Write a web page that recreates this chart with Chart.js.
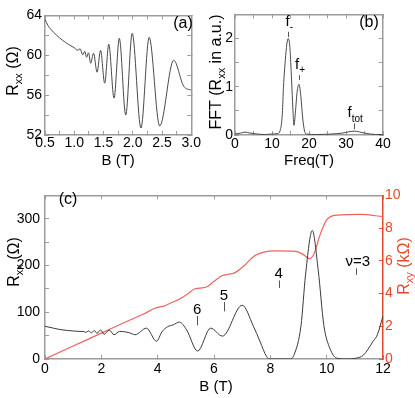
<!DOCTYPE html>
<html lang="en">
<head>
<meta charset="UTF-8" />
<title>Rxx oscillations, FFT and quantum Hall</title>
<script src="https://cdn.jsdelivr.net/npm/chart.js"></script>
<style>
  body { margin: 0; background: #fff; }
  #wrap { position: relative; width: 415px; height: 398px; overflow: hidden; }
  canvas { position: absolute; }
</style>
</head>
<body>
<div id="wrap">
  <canvas id="ca" width="205" height="178" style="left:0;top:0"></canvas>
  <canvas id="cb" width="210" height="178" style="left:205px;top:0"></canvas>
  <canvas id="cc" width="415" height="220" style="left:0;top:178px"></canvas>
</div>
<script>
// (a) low field Rxx (Ohm) vs B (T)
var aB = [0.50, 0.55, 0.60, 0.70, 0.80, 0.90, 1.00, 1.06, 1.10, 1.145, 1.18, 1.21, 1.245, 1.28, 1.33, 1.39, 1.45, 1.52, 1.59, 1.68, 1.77, 1.88, 1.99, 2.14, 2.28, 2.46, 2.70, 2.87, 3.00];
var aR = [63.6, 63.0, 62.6, 62.0, 61.5, 61.1, 60.75, 60.5, 60.65, 60.05, 60.4, 59.8, 60.25, 59.2, 60.2, 58.3, 60.5, 57.2, 61.1, 55.7, 61.7, 54.0, 62.2, 52.7, 61.8, 52.9, 59.5, 56.9, 56.5];
var aXTicks = [0.5, 1.0, 1.5, 2.0, 2.5, 3.0];
var aYTicks = [52, 56, 60, 64];

// (b) FFT amplitude (a.u.) vs frequency (T)
var bF = [0, 1.5, 2.7, 4, 6, 8, 10, 11.5, 12.2, 12.8, 13.1, 13.6, 14.0, 14.4, 14.8, 15.1, 15.4, 15.7, 15.95, 16.3, 16.8, 17.3, 17.8, 18.3, 18.8, 19.3, 22, 26, 29, 32.2, 35, 38, 40];
var bA = [0.02, 0.04, 0.06, 0.04, 0.02, 0.01, 0.02, 0.03, 0.09, 0.45, 1.0, 1.55, 1.88, 2.0, 1.85, 1.45, 0.95, 0.45, 0.2, 0.45, 0.9, 1.05, 0.8, 0.35, 0.08, 0.02, 0.01, 0.02, 0.04, 0.08, 0.04, 0.01, 0.01];
var bXTicks = [0, 10, 20, 30, 40];
var bYTicks = [0, 1, 2];
var fName = [['f', '-'], ['f', '+'], ['f', 'tot']];
var fPos = [14.4, 17.3, 32.2];
var fTick = [[2.03, 2.14], [1.14, 1.24], [0.12, 0.24]];

// (c) Rxx (Ohm) and Rxy (kOhm) up to 12 T
var cB = [0, 0.3, 0.53, 0.8, 1.0, 1.24, 1.35, 1.45, 1.55, 1.65, 1.75, 1.85, 1.97, 2.1, 2.28, 2.45, 2.65, 2.85, 3.0, 3.2, 3.6, 3.96, 4.15, 4.35, 4.55, 4.77, 5.03, 5.42, 5.88, 6.3, 7.0, 7.4, 7.63, 7.87, 8.0, 8.7, 8.85, 9.09, 9.25, 9.49, 9.7, 9.9, 10.12, 10.35, 10.7, 11.06, 11.3, 11.65, 11.8, 12.0];
var cRxx = [70, 66, 63, 61, 60, 59, 59, 57, 60, 56, 61, 55, 62, 53, 62, 52, 59, 58, 56, 52, 66, 38, 58, 69, 73, 79, 62, 17, 66, 49, 115, 70, 38, 5, 0, 0, 10, 72, 180, 275, 190, 72, 22, 2, 0, 2, 8, 38, 52, 92];
var hB = [0, 1, 2, 3, 3.5, 3.9, 4.05, 4.25, 4.5, 4.8, 5.1, 5.3, 5.5, 5.75, 6.0, 6.3, 6.5, 6.75, 7.1, 7.45, 7.8, 8.2, 8.9, 9.2, 9.38, 9.55, 9.76, 10.0, 10.36, 11.2, 12.0];
var hRxy = [0, 0.79, 1.58, 2.37, 2.75, 3.1, 3.17, 3.25, 3.45, 3.68, 4.02, 4.28, 4.33, 4.42, 4.75, 5.1, 5.18, 5.28, 5.75, 6.32, 6.55, 6.61, 6.58, 6.35, 6.13, 6.42, 7.56, 8.5, 8.8, 8.84, 8.7];
var cXTicks = [0, 2, 4, 6, 8, 10, 12];
var cYTicks = [0, 100, 200, 300];
var cY2Ticks = [0, 2, 4, 6, 8, 10];
var nuText = ['6', '5', '4', 'ν=3'];
var nuB = [5.4, 6.35, 8.3, 11.03];
var nuTick = [[72, 92], [102, 122], [152, 168], [180, 194]];

var FONT = "'Liberation Sans', Arial, sans-serif";
var FRAME = '#9c9c9c';
var RED = '#e8482c';

Chart.defaults.font.family = FONT;
Chart.defaults.font.size = 14;
Chart.defaults.color = '#000';

function pts(xs, ys) {
  return xs.map(function (x, i) { return { x: x, y: ys[i] }; });
}

// axis with ticks pointing into the plot
function inAxis(pos, min, max, step, size, labels, dec, pad, color) {
  color = color || FRAME;
  var horiz = pos === 'top' || pos === 'bottom';
  return {
    type: 'linear', position: pos, min: min, max: max,
    afterFit: function (s) { if (horiz) s.height = size; else s.width = size; },
    border: { color: color, width: 1.5 },
    grid: { drawOnChartArea: false, drawTicks: true, tickLength: -4, color: color, lineWidth: 1 },
    ticks: {
      display: !!labels, stepSize: step, autoSkip: false, maxRotation: 0, padding: pad || 0,
      color: color === RED ? RED : '#000',
      callback: function (v) {
        var ok = labels && labels.some(function (l) { return Math.abs(l - v) < 1e-6; });
        return ok ? v.toFixed(dec) : '';
      }
    }
  };
}

// text made of parts, [text, isSubscript], centred on x, baseline on y
function drawParts(ctx, parts, x, y, size, color, rot) {
  ctx.save();
  ctx.translate(x, y);
  if (rot) ctx.rotate(rot);
  ctx.fillStyle = color || '#000';
  ctx.textAlign = 'left';
  ctx.textBaseline = 'alphabetic';
  var sub = Math.round(size * 0.68);
  var widths = [], total = 0;
  parts.forEach(function (p) {
    ctx.font = (p[1] ? sub : size) + 'px ' + FONT;
    var w = ctx.measureText(p[0]).width;
    widths.push(w); total += w;
  });
  var cx = -total / 2;
  parts.forEach(function (p, i) {
    ctx.font = (p[1] ? sub : size) + 'px ' + FONT;
    ctx.fillText(p[0], cx, p[1] ? size * 0.28 : 0);
    cx += widths[i];
  });
  ctx.restore();
}

function marker(ctx, x, y1, y2) {
  ctx.save();
  ctx.strokeStyle = '#555';
  ctx.lineWidth = 1;
  ctx.beginPath();
  ctx.moveTo(Math.round(x) + 0.5, y1);
  ctx.lineTo(Math.round(x) + 0.5, y2);
  ctx.stroke();
  ctx.restore();
}

var baseOpts = function (padding, scales) {
  return {
    responsive: false, animation: false, events: [],
    layout: { padding: padding },
    plugins: { legend: { display: false }, tooltip: { enabled: false } },
    scales: scales
  };
};

function line(data, color, axis, width) {
  return {
    data: data, borderColor: color, borderWidth: width || 1, pointRadius: 0,
    cubicInterpolationMode: 'monotone', fill: false, yAxisID: axis || 'y'
  };
}

// (a)
new Chart(document.getElementById('ca'), {
  type: 'line',
  data: { datasets: [line(pts(aB, aR), '#4a4a4a')] },
  options: baseOpts({ left: 0, right: 9, top: 9, bottom: 0 }, {
    x: inAxis('bottom', 0.5, 3.0, 0.25, 43, aXTicks, 1, 4),
    x2: inAxis('top', 0.5, 3.0, 0.25, 0, null),
    y: inAxis('left', 52, 64, 2, 45, aYTicks, 0, 7),
    y2: inAxis('right', 52, 64, 2, 0, null)
  }),
  plugins: [{
    id: 'textA',
    afterDraw: function (chart) {
      var ctx = chart.ctx, a = chart.chartArea;
      drawParts(ctx, [['B (T)']], (a.left + a.right) / 2, 165, 15);
      drawParts(ctx, [['R'], ['xx', 1], [' (Ω)']], 18, 71, 16, '#000', -Math.PI / 2);
      drawParts(ctx, [['(a)']], 183, 28, 16);
    }
  }]
});

// (b)
new Chart(document.getElementById('cb'), {
  type: 'line',
  data: { datasets: [line(pts(bF, bA), '#4a4a4a')] },
  options: baseOpts({ left: 0, right: 32, top: 7, bottom: 0 }, {
    x: inAxis('bottom', 0, 40, 5, 43, bXTicks, 0, 4.5),
    x2: inAxis('top', 0, 40, 5, 0, null),
    y: inAxis('left', 0, 2.5, 0.5, 30, bYTicks, 0, 6),
    y2: inAxis('right', 0, 2.5, 0.5, 0, null)
  }),
  plugins: [{
    id: 'textB',
    afterDraw: function (chart) {
      var ctx = chart.ctx, a = chart.chartArea, sx = chart.scales.x, sy = chart.scales.y;
      drawParts(ctx, [['Freq(T)']], (a.left + a.right) / 2, 165, 15);
      drawParts(ctx, [['FFT (R'], ['xx', 1], [' in a.u.)']], 16, 72, 16, '#000', -Math.PI / 2);
      drawParts(ctx, [['(b)']], 164, 27, 16);
      fName.forEach(function (n, i) {
        var x = sx.getPixelForValue(fPos[i]);
        var y1 = sy.getPixelForValue(fTick[i][0]), y2 = sy.getPixelForValue(fTick[i][1]);
        marker(ctx, x, y1, y2);
        drawParts(ctx, [[n[0]], [n[1], 1]], x + 1, y2 - 6, 15);
      });
    }
  }]
});

// (c)
new Chart(document.getElementById('cc'), {
  type: 'line',
  data: {
    datasets: [
      line(pts(cB, cRxx), '#3a3a3a', 'y'),
      line(pts(hB, hRxy), '#f06262', 'y2', 1.2)
    ]
  },
  options: baseOpts({ left: 0, right: 0, top: 6, bottom: 0 }, {
    x: inAxis('bottom', 0, 12, 2, 39, cXTicks, 0, 6),
    x2: inAxis('top', 0, 12, 2, 0, null),
    y: inAxis('left', 0, 350, 50, 45, cYTicks, 0, 9),
    y2: inAxis('right', 0, 10, 2, 32, cY2Ticks, 0, 6, RED)
  }),
  plugins: [{
    id: 'textC',
    afterDraw: function (chart) {
      var ctx = chart.ctx, sx = chart.scales.x, sy = chart.scales.y;
      drawParts(ctx, [['B (T)']], 216, 213, 15);
      drawParts(ctx, [['R'], ['xx', 1], [' (Ω)']], 19, 84, 16, '#000', -Math.PI / 2);
      drawParts(ctx, [['R'], ['xy', 1], [' (kΩ)']], 409, 88, 16, RED, -Math.PI / 2);
      drawParts(ctx, [['(c)']], 68, 26, 16);
      nuText.forEach(function (t, i) {
        var x = sx.getPixelForValue(nuB[i]);
        var y1 = sy.getPixelForValue(nuTick[i][0]), y2 = sy.getPixelForValue(nuTick[i][1]);
        marker(ctx, x, y1, y2);
        drawParts(ctx, [[t]], x + (i === 3 ? 2 : 0), y2 - 2, 15);
      });
    }
  }]
});
</script>
</body>
</html>
